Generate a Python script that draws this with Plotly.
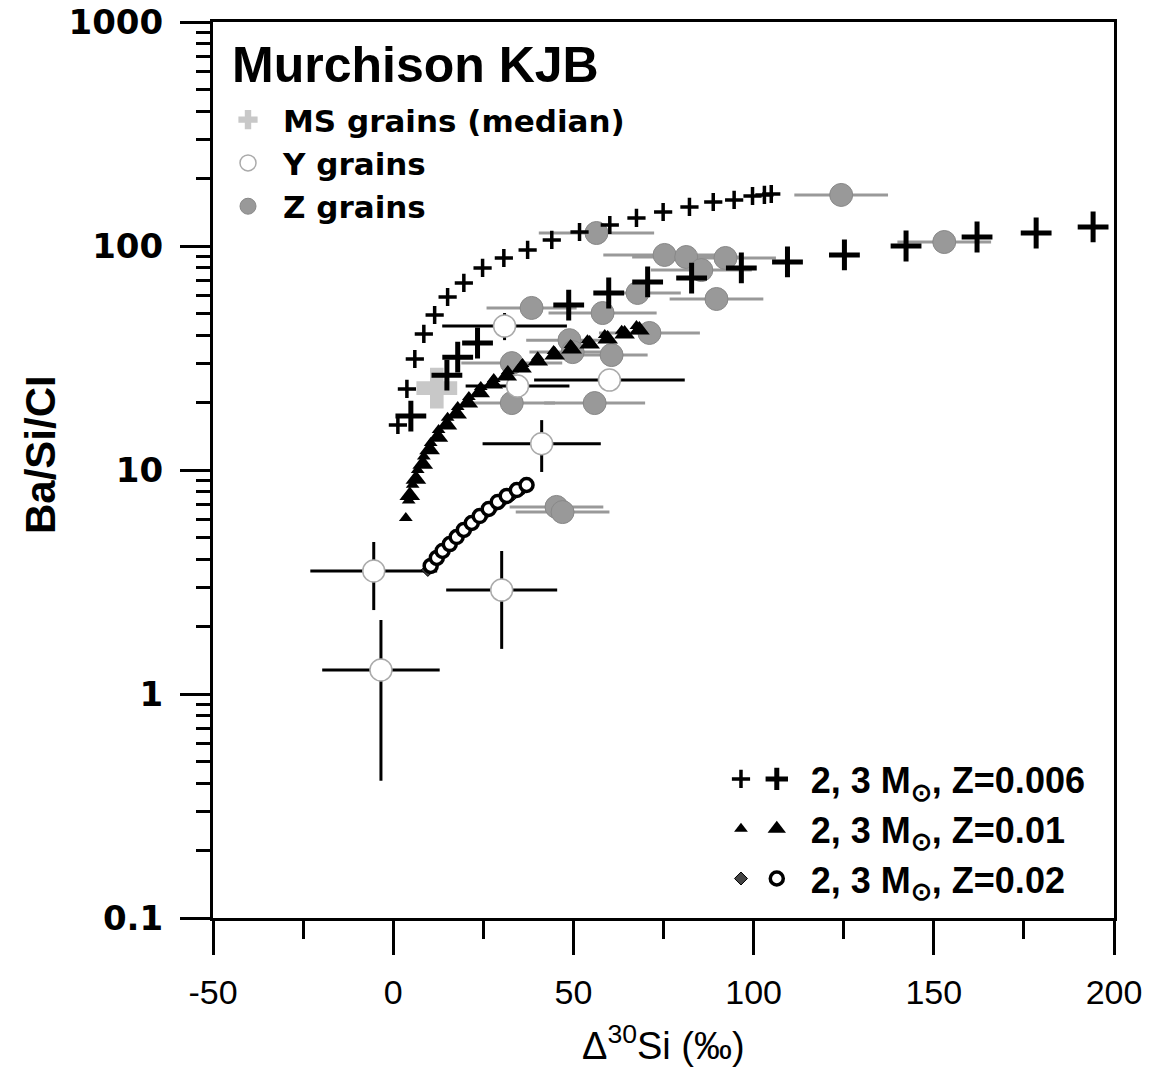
import plotly.graph_objects as go

# ---------------- data ----------------
# AGB model predictions: 2 Msun (small markers) and 3 Msun (large markers)
m2_z006_x = [1.3, 3.8, 6.0, 8.5, 11.5, 15.1, 19.6, 24.8, 30.7, 37.3, 44.0, 51.7, 60.1, 67.5, 74.9, 82.2, 88.8, 94.6, 99.7, 103.0, 104.9]
m2_z006_y = [15.9, 23.0, 31.3, 40.5, 49.2, 59.2, 68.4, 79.8, 88.4, 96.0, 106.4, 115.5, 124.1, 133.4, 141.8, 149.4, 157.2, 160.5, 167.2, 169.0, 170.7]
m3_z006_x = [4.9, 14.9, 17.9, 23.4, 48.7, 59.8, 70.6, 82.8, 96.6, 109.4, 125.2, 142.3, 162.0, 178.4, 194.2]
m3_z006_y = [17.4, 26.5, 31.9, 36.9, 54.5, 61.7, 69.1, 71.9, 79.8, 84.9, 91.2, 100.0, 109.7, 114.3, 121.6]

m2_z01_x = [3.5, 4.3, 5.4, 6.8, 8.5, 10.4, 12.6, 15.1, 17.9, 21.0, 24.3, 27.9, 31.8, 35.9, 40.1, 44.5, 49.2, 53.9, 58.7, 63.4, 67.5]
m2_z01_y = [6.1, 7.3, 8.6, 10.0, 11.5, 13.2, 15.1, 17.1, 19.1, 21.2, 23.5, 25.5, 27.7, 29.7, 31.9, 34.0, 36.1, 38.0, 40.1, 41.8, 43.9]
m3_z01_x = [4.6, 6.3, 8.2, 10.1, 12.4, 14.9, 17.6, 20.7, 24.0, 27.6, 31.5, 35.6, 40.1, 44.8, 49.5, 54.5, 59.5, 64.2, 68.3]
m3_z01_y = [7.7, 9.1, 10.6, 12.3, 14.0, 15.9, 17.8, 19.9, 22.1, 24.2, 26.3, 28.5, 30.7, 32.6, 34.7, 36.5, 38.4, 40.5, 42.2]

m2_z02_x = [9.6, 11.3, 12.9, 14.9, 16.8, 18.7, 21.0, 23.2, 25.7, 28.2, 30.7, 33.4, 36.2]
m2_z02_y = [3.58, 3.88, 4.17, 4.49, 4.82, 5.18, 5.56, 5.98, 6.43, 6.91, 7.35, 7.81, 8.31]
m3_z02_x = [10.4, 12.1, 13.7, 15.7, 17.6, 19.6, 21.8, 24.0, 26.5, 29.0, 31.5, 34.3, 37.0]
m3_z02_y = [3.73, 4.05, 4.35, 4.67, 5.02, 5.40, 5.80, 6.23, 6.70, 7.20, 7.66, 8.14, 8.57]

# mainstream grains median
ms_x = [12.1]
ms_y = [23.2]

# Y grains
y_x = [-5.4, -3.4, 30.1, 41.2, 30.9, 34.5, 60.0]
y_y = [3.54, 1.28, 2.91, 13.1, 43.9, 23.7, 25.2]
y_xerr = [17.6, 16.3, 15.4, 16.4, 17.3, 14.4, 20.9]
y_yerr_plus = [1.23, 0.86, 1.44, 3.6, 6.3, 0, 0]
y_yerr_minus = [1.17, 0.87, 1.32, 3.3, 5.9, 0, 0]

# Z grains
z_x = [124.3, 152.9, 75.3, 81.3, 85.5, 92.2, 67.8, 89.7, 58.1, 71.1, 56.4, 38.4, 48.9, 49.8, 60.6, 32.9, 32.9, 55.9, 45.3, 47.0]
z_y = [169.0, 104.2, 91.2, 89.3, 78.1, 88.4, 61.7, 58.0, 50.2, 40.9, 114.3, 52.9, 38.0, 33.6, 32.6, 30.0, 19.9, 19.9, 6.84, 6.49]
z_xerr = [13, 13, 17, 15, 14, 14, 12, 13, 15, 14, 16, 12.5, 12, 12, 10, 14, 12, 14, 13, 13]

x_tickvals = [-50, 0, 50, 100, 150, 200]
x_ticktext = ["-50", "0", "50", "100", "150", "200"]
y_tickvals = [0.1, 1, 10, 100, 1000]
y_ticktext = ["0.1", "1", "10", "100", "1000"]

legend_model_texts = ["2, 3 M<sub>\u2299</sub>, Z=0.006",
                      "2, 3 M<sub>\u2299</sub>, Z=0.01",
                      "2, 3 M<sub>\u2299</sub>, Z=0.02"]

# ---------------- figure ----------------
fig = go.Figure()

GREY = "#999999"
SANS = "Liberation Sans, Arial, sans-serif"

fig.add_trace(go.Scatter(
    x=z_x, y=z_y, mode="markers", name="Z grains", legend="legend",
    marker=dict(size=23, color=GREY, line=dict(color="#888888", width=1)),
    error_x=dict(type="data", array=z_xerr, color=GREY, thickness=3, width=0),
))
fig.add_trace(go.Scatter(
    x=y_x, y=y_y, mode="markers", name="Y grains", legend="legend",
    marker=dict(size=22, color="white", line=dict(color="#aaaaaa", width=1.5)),
    error_x=dict(type="data", array=y_xerr, color="black", thickness=3, width=0),
    error_y=dict(type="data", array=y_yerr_plus, arrayminus=y_yerr_minus, color="black", thickness=3, width=0),
))
fig.add_trace(go.Scatter(
    x=ms_x, y=ms_y, mode="markers", name="MS grains (median)", legend="legend",
    marker=dict(symbol="cross", size=34, color="#c8c8c8", line=dict(width=0)),
))

# models: 3 Msun (large) -> legend2, 2 Msun (small) -> legend3
fig.add_trace(go.Scatter(
    x=m2_z006_x, y=m2_z006_y, mode="markers", name=" ", legend="legend3",
    marker=dict(symbol="cross-thin", size=13, line=dict(color="black", width=3.5)),
))
fig.add_trace(go.Scatter(
    x=m3_z006_x, y=m3_z006_y, mode="markers", name=legend_model_texts[0], legend="legend2",
    marker=dict(symbol="cross-thin", size=22, line=dict(color="black", width=5)),
))
fig.add_trace(go.Scatter(
    x=m2_z01_x, y=m2_z01_y, mode="markers", name=" ", legend="legend3",
    marker=dict(symbol="triangle-up", size=12, color="black", line=dict(width=0)),
))
fig.add_trace(go.Scatter(
    x=m3_z01_x, y=m3_z01_y, mode="markers", name=legend_model_texts[1], legend="legend2",
    marker=dict(symbol="triangle-up", size=18, color="black", line=dict(width=0)),
))
fig.add_trace(go.Scatter(
    x=m2_z02_x, y=m2_z02_y, mode="markers", name=" ", legend="legend3",
    marker=dict(symbol="diamond", size=10, color="#444444", line=dict(color="black", width=1)),
))
fig.add_trace(go.Scatter(
    x=m3_z02_x, y=m3_z02_y, mode="markers", name=legend_model_texts[2], legend="legend2",
    marker=dict(symbol="circle", size=13, color="white", line=dict(color="black", width=3.5)),
))

AX_W = 3
fig.update_xaxes(
    range=[-50, 200], tickvals=x_tickvals, ticktext=x_ticktext, automargin=False,
    showline=True, linecolor="black", linewidth=AX_W, mirror=True,
    ticks="outside", ticklen=34, tickwidth=AX_W, tickcolor="black",
    minor=dict(ticks="outside", ticklen=18, tickwidth=AX_W, tickcolor="black",
               tickvals=[-25, 25, 75, 125, 175], showgrid=False),
    showgrid=False, zeroline=False,
    tickfont=dict(family=SANS, size=34, color="black"),
    ticklabelstandoff=8,
)
fig.update_yaxes(
    type="log", range=[-1, 3], automargin=False,
    tickvals=y_tickvals, ticktext=y_ticktext,
    showline=True, linecolor="black", linewidth=AX_W, mirror=True,
    ticks="outside", ticklen=30, tickwidth=AX_W, tickcolor="black",
    minor=dict(ticks="outside", ticklen=14, tickwidth=2.5, tickcolor="black", dtick="D1", showgrid=False),
    showgrid=False, zeroline=False,
    tickfont=dict(family="DejaVu Sans", size=34, color="black", weight="bold"),
    ticklabelstandoff=10,
)

fig.update_layout(
    width=1161, height=1069,
    margin=dict(l=213, r=47, t=22, b=151, autoexpand=False),
    paper_bgcolor="white", plot_bgcolor="white",
    showlegend=True,
    legend=dict(
        x=0.0, y=0.9208, xanchor="left", yanchor="top",
        font=dict(family="DejaVu Sans", size=31, color="black", weight="bold"),
        bgcolor="rgba(0,0,0,0)", itemwidth=60, tracegroupgap=0, traceorder="reversed",
    ),
    legend2=dict(
        x=0.588, y=0.1886, xanchor="left", yanchor="top",
        font=dict(family=SANS, size=36, color="black", weight="bold"),
        bgcolor="rgba(0,0,0,0)", itemwidth=58, tracegroupgap=0, traceorder="normal",
    ),
    legend3=dict(
        x=0.5638, y=0.1886, xanchor="left", yanchor="top",
        font=dict(family=SANS, size=36, color="black", weight="bold"),
        bgcolor="rgba(0,0,0,0)", itemwidth=30, tracegroupgap=0, traceorder="normal",
    ),
    annotations=[
        dict(text="<b>Murchison KJB</b>", xref="paper", yref="paper",
             x=(230 - 213) / 901, y=(918 - 65) / 896, xanchor="left", yanchor="middle",
             showarrow=False, font=dict(family=SANS, size=50, color="black")),
        dict(text="\u0394<sup>30</sup>Si (\u2030)", xref="paper", yref="paper",
             x=0.5, y=(918 - 1043) / 896, xanchor="center", yanchor="middle",
             showarrow=False, font=dict(family=SANS, size=38, color="black")),
        dict(text="<b>Ba/Si/CI</b>", xref="paper", yref="paper",
             x=(40 - 213) / 901, y=(918 - 455) / 896, xanchor="center", yanchor="middle",
             textangle=-90, showarrow=False, font=dict(family=SANS, size=42, color="black")),
    ],
)

fig.write_html("out.html", config={"displayModeBar": False},
               post_script="document.body.style.margin='0px';")
